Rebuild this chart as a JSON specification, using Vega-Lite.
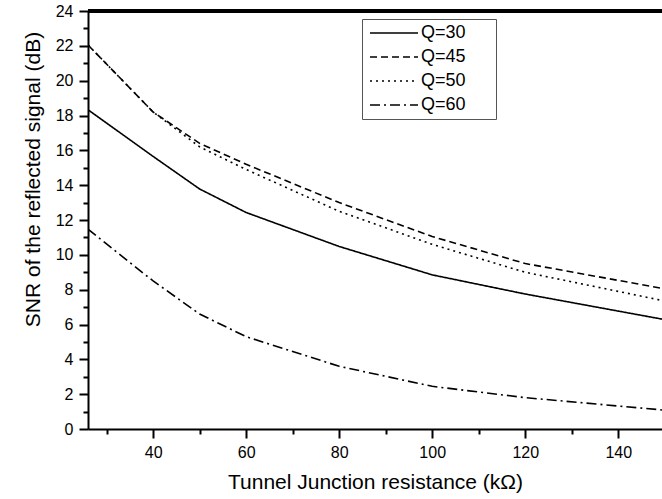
{
  "$schema": "https://vega.github.io/schema/vega-lite/v6.json",
  "autosize": "none",
  "width": 574,
  "height": 418,
  "padding": {"left": 88, "top": 11, "right": 0, "bottom": 70},
  "background": "white",
  "data": {
    "values": [
      {"r": 26, "snr": 18.33, "Q": "Q=30"},
      {"r": 40, "snr": 15.65, "Q": "Q=30"},
      {"r": 50, "snr": 13.78, "Q": "Q=30"},
      {"r": 60, "snr": 12.43, "Q": "Q=30"},
      {"r": 80, "snr": 10.48, "Q": "Q=30"},
      {"r": 100, "snr": 8.85, "Q": "Q=30"},
      {"r": 120, "snr": 7.75, "Q": "Q=30"},
      {"r": 150, "snr": 6.28, "Q": "Q=30"},
      {"r": 26, "snr": 22.05, "Q": "Q=45"},
      {"r": 40, "snr": 18.2, "Q": "Q=45"},
      {"r": 50, "snr": 16.4, "Q": "Q=45"},
      {"r": 60, "snr": 15.2, "Q": "Q=45"},
      {"r": 80, "snr": 13.0, "Q": "Q=45"},
      {"r": 100, "snr": 11.05, "Q": "Q=45"},
      {"r": 120, "snr": 9.5, "Q": "Q=45"},
      {"r": 150, "snr": 8.05, "Q": "Q=45"},
      {"r": 26, "snr": 22.05, "Q": "Q=50"},
      {"r": 40, "snr": 18.2, "Q": "Q=50"},
      {"r": 50, "snr": 16.2, "Q": "Q=50"},
      {"r": 60, "snr": 14.9, "Q": "Q=50"},
      {"r": 80, "snr": 12.5, "Q": "Q=50"},
      {"r": 100, "snr": 10.6, "Q": "Q=50"},
      {"r": 120, "snr": 9.0, "Q": "Q=50"},
      {"r": 150, "snr": 7.35, "Q": "Q=50"},
      {"r": 26, "snr": 11.47, "Q": "Q=60"},
      {"r": 40, "snr": 8.5, "Q": "Q=60"},
      {"r": 50, "snr": 6.6, "Q": "Q=60"},
      {"r": 60, "snr": 5.3, "Q": "Q=60"},
      {"r": 80, "snr": 3.6, "Q": "Q=60"},
      {"r": 100, "snr": 2.45, "Q": "Q=60"},
      {"r": 120, "snr": 1.8, "Q": "Q=60"},
      {"r": 150, "snr": 1.08, "Q": "Q=60"}
    ]
  },
  "layer": [
    {
      "mark": {"type": "line", "clip": true, "color": "black", "strokeWidth": 1.6},
      "encoding": {
        "x": {
          "field": "r", "type": "quantitative",
          "scale": {"domain": [26, 149.4], "nice": false, "zero": false},
          "axis": {
            "orient": "bottom",
            "values": [40, 60, 80, 100, 120, 140],
            "tickSize": 9, "labelPadding": 6,
            "title": "Tunnel Junction resistance (kΩ)",
            "titlePadding": 11, "titleFontSize": 21
          }
        },
        "y": {
          "field": "snr", "type": "quantitative",
          "scale": {"domain": [0, 24], "nice": false, "zero": false},
          "axis": {
            "orient": "left",
            "values": [0, 2, 4, 6, 8, 10, 12, 14, 16, 18, 20, 22, 24],
            "tickSize": 9, "labelPadding": 6,
            "title": "SNR of the reflected signal (dB)",
            "titleFontSize": 21,
            "titleX": -55, "titleY": 168, "titleBaseline": "middle", "titleAlign": "center"
          }
        },
        "strokeDash": {
          "field": "Q", "type": "nominal",
          "scale": {
            "domain": ["Q=30", "Q=45", "Q=50", "Q=60"],
            "range": [[1, 0], [7, 4], [2, 4], [10, 4, 2, 4]]
          },
          "legend": {
            "title": null,
            "orient": "none",
            "legendX": 274,
            "legendY": 8,
            "symbolType": "M-1,0H7",
            "symbolSize": 144,
            "symbolStrokeWidth": 1.6,
            "symbolStrokeColor": "black",
            "symbolFillColor": "transparent",
            "labelFontSize": 18,
            "labelFont": "Liberation Sans",
            "labelColor": "black",
            "labelOffset": 36,
            "labelExpr": "datum.label + '\u00a0\u00a0\u00a0\u00a0\u00a0\u200b'",
            "strokeColor": "#555",
            "padding": 5,
            "rowPadding": 6
          }
        }
      }
    },
    {
      "mark": {"type": "line", "opacity": 0},
      "encoding": {
        "x": {
          "field": "r", "type": "quantitative",
          "axis": {
            "orient": "bottom",
            "values": [30, 50, 70, 90, 110, 130, 150],
            "tickSize": 5, "labels": false, "domain": false, "title": null
          }
        },
        "y": {
          "field": "snr", "type": "quantitative",
          "axis": {
            "orient": "left",
            "values": [1, 3, 5, 7, 9, 11, 13, 15, 17, 19, 21, 23],
            "tickSize": 5, "labels": false, "domain": false, "title": null
          }
        },
        "detail": {"field": "Q"}
      }
    },
    {
      "mark": {"type": "rule", "color": "black", "strokeWidth": 2.4},
      "encoding": {"y": {"datum": 24, "axis": null}}
    }
  ],
  "resolve": {"axis": {"x": "independent", "y": "independent"}},
  "config": {
    "view": {"stroke": null},
    "font": "Liberation Sans",
    "axis": {
      "labelFont": "Liberation Sans",
      "titleFont": "Liberation Sans",
      "labelFontSize": 16,
      "labelColor": "black",
      "titleColor": "black",
      "titleFontWeight": "normal",
      "domainColor": "black",
      "domainWidth": 2,
      "tickColor": "black",
      "tickWidth": 2,
      "grid": false
    }
  }
}
